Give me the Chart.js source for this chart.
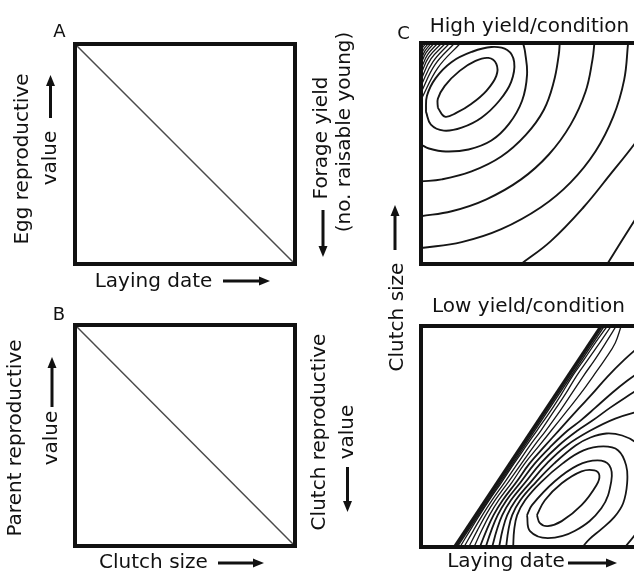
<!DOCTYPE html>
<html><head><meta charset="utf-8">
<script src="https://cdn.jsdelivr.net/npm/chart.js@4.4.1/dist/chart.umd.min.js"></script>
<style>
html,body{margin:0;padding:0;background:#fff;}
body{position:relative;width:634px;height:573px;overflow:hidden;font-family:"DejaVu Sans",sans-serif;}
canvas{position:absolute;}
.t{position:absolute;font-size:20px;line-height:20px;white-space:nowrap;color:#111;transform:translate(-50%,-50%);}
.r{transform:translate(-50%,-50%) rotate(-90deg);}
.p{font-size:18px;line-height:18px;}
#arrows{position:absolute;left:0;top:0;}
</style></head><body>
<canvas id="cA" width="228" height="228" style="left:71px;top:40px"></canvas>
<canvas id="cB" width="228" height="229" style="left:71px;top:321px"></canvas>
<canvas id="cHigh" width="228" height="229" style="left:417px;top:39px"></canvas>
<canvas id="cLow" width="228" height="229" style="left:417px;top:322px"></canvas>
<svg id="arrows" width="634" height="573"></svg>

<div class="t p" style="left:59.5px;top:31px">A</div>
<div class="t p" style="left:59px;top:313.5px">B</div>
<div class="t p" style="left:403.5px;top:33px">C</div>
<div class="t" style="left:529.5px;top:25px">High yield/condition</div>
<div class="t" style="left:528.5px;top:304.5px">Low yield/condition</div>
<div class="t" style="left:153.5px;top:279.5px">Laying date</div>
<div class="t" style="left:153.5px;top:561px">Clutch size</div>
<div class="t" style="left:506px;top:559.5px">Laying date</div>
<div class="t r" style="left:20.5px;top:159px">Egg reproductive</div>
<div class="t r" style="left:48.5px;top:158px">value</div>
<div class="t r" style="left:319.5px;top:138px">Forage yield</div>
<div class="t r" style="left:342.5px;top:131.5px">(no. raisable young)</div>
<div class="t r" style="left:14px;top:437.5px">Parent reproductive</div>
<div class="t r" style="left:49.5px;top:438px">value</div>
<div class="t r" style="left:317.5px;top:431.5px">Clutch reproductive</div>
<div class="t r" style="left:346px;top:432px">value</div>
<div class="t r" style="left:395.5px;top:317px">Clutch size</div>

<script>
// ---- Data (relative units, 0..222 on each axis, origin at lower-left of each panel) ----
const AXIS_MIN = 0, AXIS_MAX = 222;

// Panel A: egg reproductive value vs laying date; Panel B: parent value vs clutch size
const eggValueLine    = [[0,222],[222,0]];
const parentValueLine = [[0,222],[222,0]];

// Panel C, high yield/condition: contour lines
const highRing1 = [[17,157],[24,148],[36,152],[51,161],[66,174],[76,189],[76,201],[68,207],[55,204],[39,194],[24,179],[17,166],[17,157]];
const highRing2 = [[5,153],[10,140],[23,134],[41,137],[61,147],[79,164],[91,183],[94,203],[87,215],[71,218],[51,213],[31,203],[15,187],[6,169],[5,153]];
const highArc3 = [[0,120],[8,116],[25,113],[48,115],[71,124],[89,141],[102,164],[107,190],[105,213],[103,222]];
const highArc4 = [[0,83],[21,85],[51,93],[81,108],[106,130],[124,155],[134,183],[139,210],[140,222]];
const highArc5 = [[0,48],[31,53],[66,65],[101,85],[129,110],[151,140],[166,173],[173,205],[175,222]];
const highArc6 = [[0,16],[41,22],[81,35],[121,57],[151,82],[176,113],[194,148],[205,185],[209,222]];
const highArc7 = [[101,0],[131,23],[164,57],[191,90],[215,120],[230,142]];
const highArc8 = [[188,0],[215,43],[228,63]];
const highCornerLines = [
  [[0,165],[17,197],[40,222]],
  [[0,172],[14,200],[34,222]],
  [[0,179],[12,203],[29,222]],
  [[0,185],[10,206],[25,222]],
  [[0,191],[8,208],[21,222]],
  [[0,196],[6.5,210],[17,222]],
  [[0,201],[5,212],[13.5,222]],
  [[0,205],[4,214],[10.5,222]],
  [[0,209],[3,216],[8,222]],
  [[0,213],[2,218],[5.5,222]],
  [[0,216],[1,219.5],[3.5,222]]
];

// Panel C, low yield/condition: contour lines
const lowBoundary = [[34,0],[182,222]];
const lowFanA = [[36.5,0],[185,222]];
const lowFanB = [[39.3,0],[49.7,17],[59.1,32],[68.9,47],[81.3,65],[94,84],[106.5,102],[117,117],[131,137],[142,154],[153,172],[165,189],[176.5,206],[188,222]];
const lowFanC = [[43.4,0],[53.1,17],[62,32],[71.7,47],[84.4,65],[97.5,84],[110,102],[121,117],[134.5,137],[146,154],[157,172],[169,189],[181,206],[192,222]];
const lowFanD = [[48.2,0],[57,17],[65.3,32],[74.8,47],[87.9,65],[101.5,84],[114.5,102],[126,117],[140.5,137],[152,154],[164,172],[176,189],[187,206],[197,222]];
const lowFanE = [[53.5,0],[61.4,17],[69.1,32],[78.4,47],[91.8,65],[104.8,84],[119.5,102],[131.5,117],[147.5,137],[161,154],[174,172],[186,189],[196,205],[202,222]];
const lowArcF = [[59.4,0],[66.2,17],[73.2,32],[82.4,47],[96.1,65],[109.6,84],[125.5,102],[139,117],[148,127],[159,139],[173,154],[188,171],[205,188],[222,203]];
const lowArcG = [[65.3,0],[71.1,17],[77.4,32],[86.3,47],[100.5,65],[114.9,84],[132,102],[148,117],[161,127],[176,140],[193,155],[208,167],[222,177]];
const lowArcH = [[71.8,0],[76.5,17],[82,32],[90.7,47],[105.3,65],[120.7,84],[139,102],[158,117],[173,127],[191,140],[206,150],[222,160]];
const lowArcI = [[78.8,0],[82.3,17],[87,32],[95.5,47],[110.5,65],[127.1,84],[147,102],[171,117],[196,129],[222,137]];
const lowArcJ = [[85.9,0],[88.2,17],[92,32],[100.2,47],[115.8,65],[134.5,84],[156,102],[171,110],[187,114],[203,112],[217,105],[229,92],[236,67],[233,42],[221,19],[206,0]];
const lowRing3 = [[93,0],[94,17],[97,32],[105,47],[121,65],[143,84],[164,97],[184,101],[199,97],[207,82],[208,64],[204,44],[195,30],[182,18],[170,8],[163,0]];
const lowRing2 = [[107,32],[110,16],[128,9],[155,16],[182,39],[192,66],[190,82],[178,87],[158,82],[135,66],[112,42],[107,32]];
const lowRing1 = [[117,32],[120,24],[128,21],[142,26],[162,42],[177,62],[180,72],[175,77],[162,76],[142,64],[125,47],[117,32]];

// annotation arrows (tail -> tip), page coordinates
const ARROWS = [
  [223,281,270,281],[218,563,264,563],[568,563,617,563],
  [50.5,118,50.5,75],[323,210,323,257],[52,407,52,357],[347.5,467,347.5,512],[395,250,395,205]
];

// ---- Chart helpers ----
const INK = '#161616';
function ds(points, width, color, tension){
  return {data: points.map(p => ({x:p[0], y:p[1]})), showLine:true, borderColor:color||INK,
          borderWidth:width, pointRadius:0, pointHoverRadius:0, tension:(tension===undefined?0.4:tension), fill:false};
}
const framePlugin = {
  id:'frame',
  afterDatasetsDraw(chart){
    const {ctx, chartArea:a} = chart;
    ctx.save(); ctx.lineWidth = 4; ctx.strokeStyle = '#111';
    ctx.strokeRect(a.left, a.top, a.right - a.left, a.bottom - a.top);
    ctx.restore();
  }
};
function makeChart(id, datasets){
  new Chart(document.getElementById(id), {
    type:'scatter',
    data:{datasets},
    options:{
      responsive:false, animation:false, devicePixelRatio:1, events:[],
      layout:{padding:4},
      plugins:{legend:{display:false}, tooltip:{enabled:false}},
      scales:{
        x:{type:'linear', min:AXIS_MIN, max:AXIS_MAX, display:false},
        y:{type:'linear', min:AXIS_MIN, max:AXIS_MAX, display:false}
      }
    },
    plugins:[framePlugin]
  });
}

makeChart('cA', [ds(eggValueLine, 1.5, '#4a4a4a', 0)]);
makeChart('cB', [ds(parentValueLine, 1.5, '#4a4a4a', 0)]);

const highSets = [highRing1, highRing2, highArc3, highArc4, highArc5, highArc6, highArc7, highArc8].map(p => ds(p, 1.9));
highCornerLines.forEach(p => highSets.push(ds(p, 1.3)));
makeChart('cHigh', highSets);

const lowSets = [ds(lowBoundary, 3.6, INK, 0), ds(lowFanA, 1.4, INK, 0)];
[lowFanB, lowFanC, lowFanD, lowFanE].forEach(p => lowSets.push(ds(p, 1.3)));
[lowArcF, lowArcG, lowArcH, lowArcI, lowArcJ, lowRing3, lowRing2, lowRing1].forEach(p => lowSets.push(ds(p, 1.8)));
makeChart('cLow', lowSets);

// ---- arrows ----
const svg = document.getElementById('arrows');
const NS = 'http://www.w3.org/2000/svg';
ARROWS.forEach(([x1,y1,x2,y2]) => {
  const dx = x2-x1, dy = y2-y1, L = Math.hypot(dx,dy), ux = dx/L, uy = dy/L;
  const hl = 11, hw = 4.5;
  const bx = x2 - ux*hl, by = y2 - uy*hl;
  const line = document.createElementNS(NS,'line');
  line.setAttribute('x1',x1); line.setAttribute('y1',y1);
  line.setAttribute('x2',bx+ux); line.setAttribute('y2',by+uy);
  line.setAttribute('stroke','#111'); line.setAttribute('stroke-width','3');
  svg.appendChild(line);
  const poly = document.createElementNS(NS,'polygon');
  poly.setAttribute('points', `${x2},${y2} ${bx - uy*hw},${by + ux*hw} ${bx + uy*hw},${by - ux*hw}`);
  poly.setAttribute('fill','#111');
  svg.appendChild(poly);
});
</script>
</body></html>
